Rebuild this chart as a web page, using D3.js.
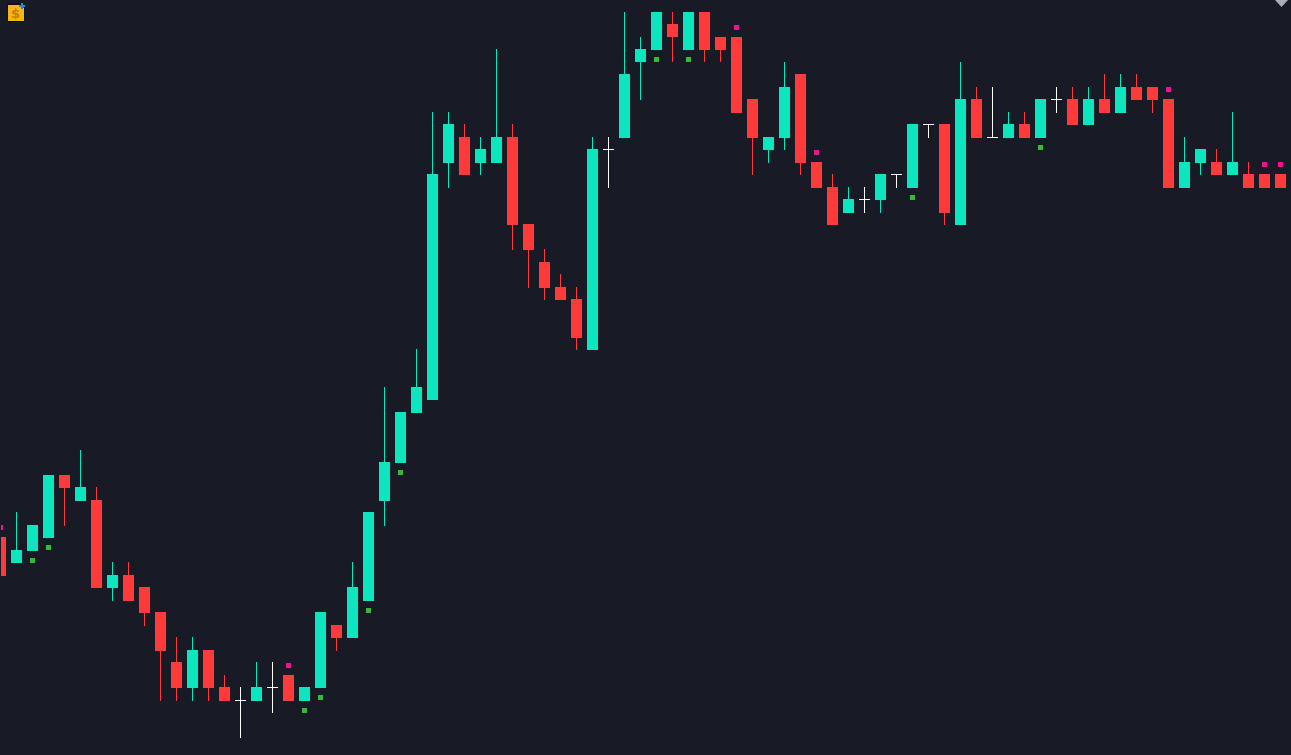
<!DOCTYPE html>
<html>
<head>
<meta charset="utf-8">
<style>
  html, body { margin: 0; padding: 0; background: #181b26; overflow: hidden; }
  svg { display: block; }
</style>
<script src="https://cdn.jsdelivr.net/npm/d3@7"></script>
</head>
<body>
<svg id="chart" width="1291" height="755"></svg>
<script>
// prices in tick units
var opens = [16,14,15,16,21,19,19,12,13,12,10,6,4,7,4,3,3,4,5,3,4,9,8,11,19,22,26,27,46,48,46,46,48,41,38,36,35,31,47,48,54,55,57,55,58,56,56,51,47,48,53,46,44,42,43,43,45,44,49,49,41,51,48,48,49,48,51,51,49,51,50,52,52,51,44,46,46,45,45,45,45];
var closes = [13,15,17,21,20,20,12,13,11,10,7,4,7,4,3,3,4,4,3,4,10,8,12,18,22,26,28,45,49,45,47,48,41,39,36,35,32,47,47,53,55,58,56,58,55,55,50,48,48,52,46,44,41,43,43,45,45,49,49,42,51,48,48,49,48,51,51,49,51,50,52,51,51,44,46,47,45,46,44,44,44];
var highs = [16,18,17,21,21,23,20,14,14,12,10,8,8,7,5,4,6,6,5,4,10,9,14,18,28,26,31,50,50,49,48,55,49,41,39,37,36,48,48,58,56,58,58,58,58,56,56,51,48,54,53,46,45,44,44,45,45,49,49,49,54,52,52,50,50,51,52,52,52,53,53,53,52,51,48,47,47,50,46,45,45];
var lows = [13,14,15,16,17,19,12,11,11,9,3,3,3,3,3,0,3,2,3,3,4,7,8,11,17,22,26,27,44,45,45,46,39,36,35,35,31,31,44,48,51,55,54,55,54,54,50,45,46,47,45,44,41,42,42,42,44,44,48,41,41,48,48,48,48,48,50,49,49,50,50,51,50,44,44,45,45,45,44,44,44];

// candle numbers that carry a signal dot
var buySignals = [2,3,19,20,23,25,41,43,57,65];
var sellSignals = [0,18,46,51,73,79,80];

var bg = "#181b26";
var upColor = "#0ce6be";
var downColor = "#ff3a3b";
var dojiColor = "#ffffff";
var buyColor = "#38b83a";
var sellColor = "#e6178f";

var width = 1291, height = 755;
var bodyW = 11, dotSize = 5, dotGap = 7;

var x = d3.scaleLinear().domain([0, 80]).range([0.5, 1280.5]);
var y = d3.scaleLinear().domain([0, 58]).range([738, 12]);

// the chart snaps tops up and bottoms down to whole pixels
function yTop(v) { return Math.floor(y(v)); }
function yBottom(v) { return Math.ceil(y(v) - 0.1); }

var svg = d3.select("#chart");

svg.append("rect")
  .attr("width", width)
  .attr("height", height)
  .attr("fill", bg);

svg.append("clipPath").attr("id", "plot")
  .append("rect")
  .attr("x", 1).attr("y", 0)
  .attr("width", width - 1).attr("height", height);

var plot = svg.append("g")
  .attr("clip-path", "url(#plot)")
  .attr("shape-rendering", "crispEdges");

var candles = d3.range(opens.length);

function candleColor(i) {
  if (opens[i] === closes[i]) return dojiColor;
  return closes[i] > opens[i] ? upColor : downColor;
}

// wicks
plot.selectAll("line.wick")
  .data(candles)
  .enter()
  .append("line")
  .attr("class", "wick")
  .attr("x1", i => x(i))
  .attr("x2", i => x(i))
  .attr("y1", i => yTop(highs[i]))
  .attr("y2", i => yBottom(lows[i]))
  .attr("stroke", candleColor)
  .attr("stroke-width", 1);

// bodies, a doji only gets a 1px dash
plot.selectAll("rect.body")
  .data(candles)
  .enter()
  .append("rect")
  .attr("class", "body")
  .attr("x", i => x(i) - bodyW / 2)
  .attr("y", i => yTop(Math.max(opens[i], closes[i])))
  .attr("width", bodyW)
  .attr("height", i => opens[i] === closes[i] ? 1 : yBottom(Math.min(opens[i], closes[i])) - yTop(Math.max(opens[i], closes[i])))
  .attr("fill", candleColor);

plot.selectAll("rect.buy")
  .data(buySignals)
  .enter()
  .append("rect")
  .attr("class", "buy")
  .attr("x", i => x(i) - dotSize / 2)
  .attr("y", i => yBottom(lows[i]) + dotGap)
  .attr("width", dotSize)
  .attr("height", dotSize)
  .attr("fill", buyColor);

plot.selectAll("rect.sell")
  .data(sellSignals)
  .enter()
  .append("rect")
  .attr("class", "sell")
  .attr("x", i => x(i) - dotSize / 2)
  .attr("y", i => yTop(highs[i]) - dotGap - dotSize)
  .attr("width", dotSize)
  .attr("height", dotSize)
  .attr("fill", sellColor);

// little script badge, top left
var badge = svg.append("g");
badge.append("rect")
  .attr("x", 7).attr("y", 3)
  .attr("width", 18).attr("height", 19)
  .attr("rx", 3)
  .attr("fill", "#11131a");
badge.append("path")
  .attr("d", "M8,5H20L24,8V21H8Z")
  .attr("fill", "#f7b516");
badge.append("text")
  .attr("x", 15.5).attr("y", 18)
  .attr("text-anchor", "middle")
  .attr("font-family", "DejaVu Sans")
  .attr("font-size", 13)
  .attr("font-weight", "bold")
  .attr("fill", "#c4820e")
  .text("$");
badge.append("path")
  .attr("d", "M21,3H23V5H25V7H23V9H21V7H19V5H21Z")
  .attr("fill", "#2b86dd");

// collapse arrow, top right
svg.append("path")
  .attr("d", "M1275,0L1288,0L1281.5,7Z")
  .attr("fill", "#a9adb8");
</script>
</body>
</html>
